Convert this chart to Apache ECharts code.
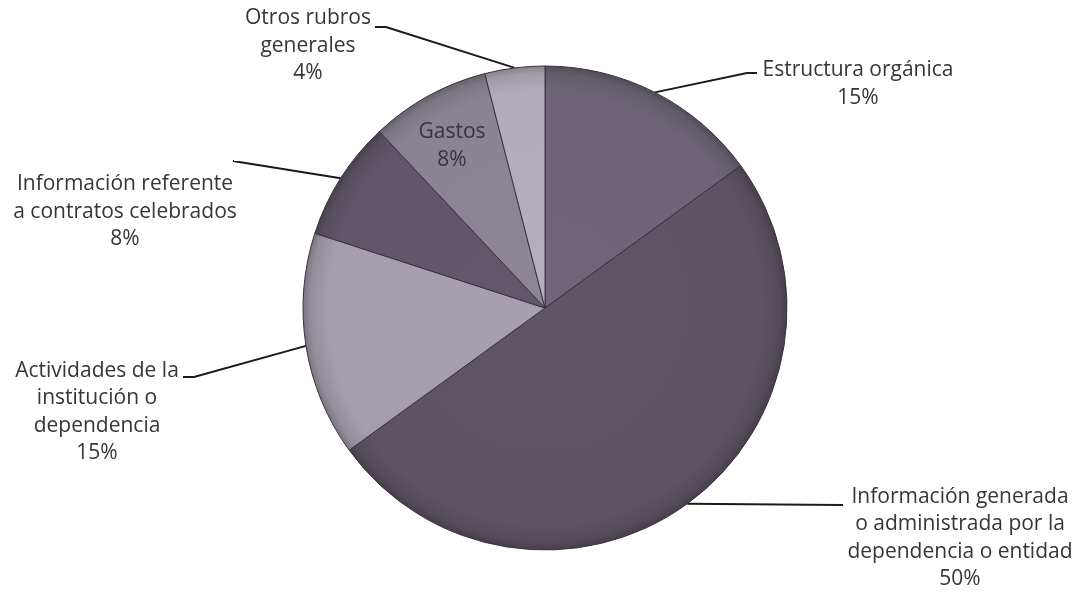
<!DOCTYPE html>
<html>
<head>
<meta charset="utf-8">
<script src="https://cdn.jsdelivr.net/npm/echarts@6/dist/echarts.min.js"></script>
<style>
html,body{margin:0;padding:0;background:#fff;}
#chart{width:1075px;height:592px;}
</style>
</head>
<body>
<div id="chart"></div>
<script>
// Data
const categories = [
  'Estructura orgánica',
  'Información generada\no administrada por la\ndependencia o entidad',
  'Actividades de la\ninstitución o\ndependencia',
  'Información referente\na contratos celebrados',
  'Gastos',
  'Otros rubros\ngenerales'
];
const shares = [15, 50, 15, 8, 8, 4];

// Styling / layout
const sliceColors = ['#6d6575', '#5d5363', '#a49dab', '#605667', '#8a8391', '#b2acb8'];
const labelCenters = [
  [858, 84], [960, 538], [97, 412], [125, 212], [452, 146], [308, 46]
];
// leader line ends near the labels: [bend point, end point]
const leaderEnds = [
  [[747, 73], [757, 73]],
  [[841, 505], [843, 505]],
  [[194, 377], [183, 377]],
  [[233, 161], [234, 161]],
  null,
  [[386, 27], [375, 27]]
];

function shade(hex, f) {
  const n = parseInt(hex.slice(1), 16);
  const r = Math.min(255, Math.round(((n >> 16) & 255) * f));
  const g = Math.min(255, Math.round(((n >> 8) & 255) * f));
  const b = Math.min(255, Math.round((n & 255) * f));
  return 'rgb(' + r + ',' + g + ',' + b + ')';
}

const CX = 545, CY = 308, R = 242;

const chart = echarts.init(document.getElementById('chart'));
const seriesData = categories.map((name, i) => ({
  name: name,
  value: shares[i],
  itemStyle: {
    color: {
      type: 'radial', x: CX, y: CY, r: R, global: true,
      colorStops: [
        {offset: 0, color: shade(sliceColors[i], 1.02)},
        {offset: 0.9, color: sliceColors[i]},
        {offset: 0.97, color: shade(sliceColors[i], 0.9)},
        {offset: 1, color: shade(sliceColors[i], 0.75)}
      ]
    }
  },
  label: i === 4 ? {position: 'inside'} : {},
  labelLine: {show: i !== 4}
}));

chart.setOption({
  animation: false,
  backgroundColor: '#ffffff',
  series: [{
    type: 'pie',
    center: [CX, CY],
    radius: [0, R],
    startAngle: 90,
    clockwise: true,
    data: seriesData,
    itemStyle: {borderColor: '#3a3240', borderWidth: 1},
    label: {
      show: true,
      position: 'outside',
      formatter: p => p.name + '\n' + p.value + '%',
      fontFamily: 'Open Sans',
      fontSize: 21,
      lineHeight: 27.5,
      color: '#363636',
      align: 'center'
    },
    labelLine: {
      show: true,
      length: 20,
      length2: 20,
      lineStyle: {color: '#1a1a1a', width: 2}
    },
    labelLayout: function (params) {
      const i = params.dataIndex;
      const c = labelCenters[i];
      const out = {x: c[0], y: c[1], align: 'center', verticalAlign: 'middle'};
      if (leaderEnds[i] && params.labelLinePoints) {
        const start = params.labelLinePoints[0];
        out.labelLinePoints = [start, leaderEnds[i][0], leaderEnds[i][1]];
      }
      return out;
    }
  }]
});
</script>
</body>
</html>
